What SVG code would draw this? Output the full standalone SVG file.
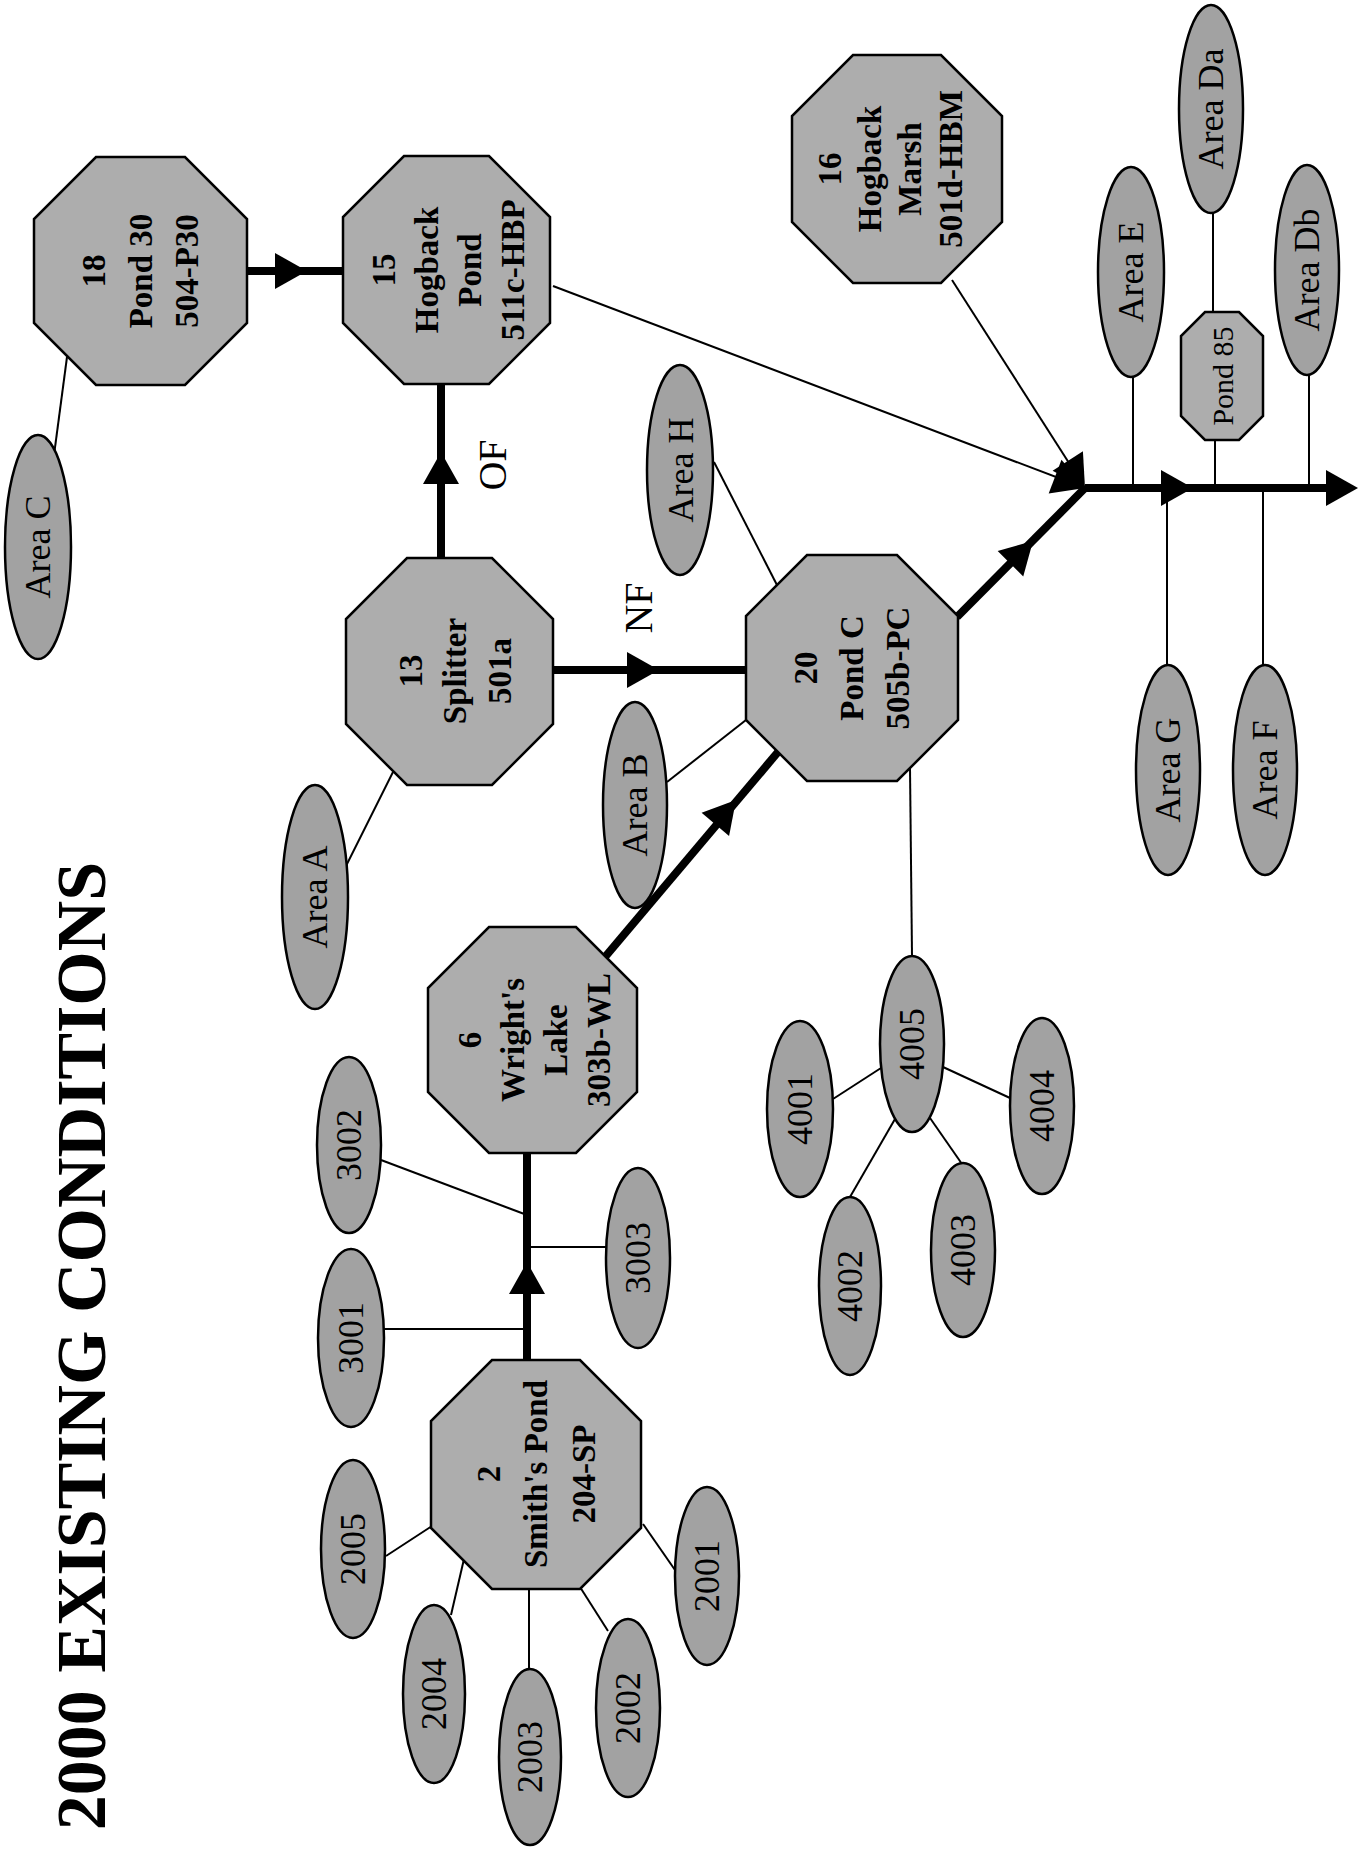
<svg xmlns="http://www.w3.org/2000/svg" xmlns:xlink="http://www.w3.org/1999/xlink" width="1366" height="1849" viewBox="0 0 1366 1849">
<style>
.oct{fill:#adadad;stroke:#000;stroke-width:2.5}
.ell{fill:#a2a2a2;stroke:#000;stroke-width:2.5}
.thick{stroke:#000;stroke-width:8;fill:none}
.thin{stroke:#000;stroke-width:2;fill:none}
.ot{font-family:"Liberation Serif",serif;font-weight:bold;font-size:33px;text-anchor:middle;fill:#000}
.et{font-family:"Liberation Serif",serif;font-size:36px;text-anchor:middle;fill:#000}
.lab{font-family:"Liberation Serif",serif;font-size:40px;text-anchor:middle;fill:#000}
.title{font-family:"Liberation Serif",serif;font-weight:bold;font-size:70px;text-anchor:middle;fill:#000}
</style>
<defs>
<path id="ah" d="M0,0 L-32,-18 L-32,18 Z" fill="#000"/>
</defs>
<rect width="1366" height="1849" fill="#fff"/>

<text class="title" transform="translate(105,1346) rotate(-90)">2000 EXISTING CONDITIONS</text>

<g id="connectors">
<line class="thick" x1="247" y1="271" x2="343" y2="271"/>
<line class="thick" x1="441" y1="558" x2="441" y2="384"/>
<line class="thick" x1="553" y1="670" x2="746" y2="670"/>
<line class="thick" x1="527" y1="1360" x2="527" y2="1153"/>
<line class="thick" x1="605" y1="957" x2="778" y2="752"/>
<line class="thick" x1="957" y1="617" x2="1085" y2="488"/>
<line class="thick" x1="1085" y1="488" x2="1335" y2="488"/>
<line class="thin" x1="553" y1="286" x2="1085" y2="488"/>
<line class="thin" x1="952" y1="280" x2="1085" y2="488"/>
<line class="thin" x1="54" y1="455" x2="67" y2="357"/>
<line class="thin" x1="346" y1="866" x2="393" y2="772"/>
<line class="thin" x1="667" y1="782" x2="746" y2="720"/>
<line class="thin" x1="714" y1="462" x2="778" y2="587"/>
<line class="thin" x1="912" y1="956" x2="910" y2="768"/>
<line class="thin" x1="384" y1="1329" x2="527" y2="1329"/>
<line class="thin" x1="381" y1="1160" x2="527" y2="1215"/>
<line class="thin" x1="527" y1="1247" x2="606" y2="1247"/>
<line class="thin" x1="386" y1="1556" x2="432" y2="1526"/>
<line class="thin" x1="451" y1="1615" x2="464" y2="1559"/>
<line class="thin" x1="529" y1="1589" x2="529" y2="1669"/>
<line class="thin" x1="580" y1="1587" x2="608" y2="1631"/>
<line class="thin" x1="643" y1="1524" x2="675" y2="1570"/>
<line class="thin" x1="833" y1="1099" x2="881" y2="1068"/>
<line class="thin" x1="943" y1="1067" x2="1010" y2="1098"/>
<line class="thin" x1="895" y1="1119" x2="850" y2="1197"/>
<line class="thin" x1="930" y1="1118" x2="962" y2="1164"/>
<line class="thin" x1="1133" y1="377" x2="1133" y2="488"/>
<line class="thin" x1="1213" y1="213" x2="1213" y2="312"/>
<line class="thin" x1="1215" y1="440" x2="1215" y2="488"/>
<line class="thin" x1="1309" y1="375" x2="1309" y2="488"/>
<line class="thin" x1="1167" y1="488" x2="1167" y2="665"/>
<line class="thin" x1="1263" y1="488" x2="1263" y2="665"/>
<use xlink:href="#ah" transform="translate(307,271)"/>
<use xlink:href="#ah" transform="translate(441,452) rotate(-90)"/>
<use xlink:href="#ah" transform="translate(659,670)"/>
<use xlink:href="#ah" transform="translate(527,1262) rotate(-90)"/>
<use xlink:href="#ah" transform="translate(736,800) rotate(-49.8)"/>
<use xlink:href="#ah" transform="translate(1033,541) rotate(-45.2)"/>
<use xlink:href="#ah" transform="translate(1085,488) rotate(20.8)"/>
<use xlink:href="#ah" transform="translate(1085,488) rotate(57.4)"/>
<use xlink:href="#ah" transform="translate(1193,488)"/>
<use xlink:href="#ah" transform="translate(1358,488)"/>
<text class="lab" transform="translate(506,465) rotate(-90)">OF</text>
<text class="lab" transform="translate(652,608) rotate(-90)">NF</text>
</g>

<g id="n18">
<polygon class="oct" points="96,157 185,157 247,219 247,323 185,385 96,385 34,323 34,219"/>
<g class="ot" transform="translate(140,271) rotate(-90)">
<text y="-35">18</text><text y="12">Pond 30</text><text y="58">504-P30</text>
</g>
</g>
<g id="n15">
<polygon class="oct" points="404,156 489,156 550,217 550,323 489,384 404,384 343,323 343,217"/>
<g class="ot" transform="translate(446,270) rotate(-90)">
<text y="-51">15</text><text y="-8">Hogback</text><text y="35">Pond</text><text y="78">511c-HBP</text>
</g>
</g>
<g id="n16">
<polygon class="oct" points="853,55 941,55 1002,116 1002,222 941,283 853,283 792,222 792,116"/>
<g class="ot" transform="translate(897,169) rotate(-90)">
<text y="-56">16</text><text y="-16">Hogback</text><text y="24">Marsh</text><text y="65">501d-HBM</text>
</g>
</g>
<g id="n13">
<polygon class="oct" points="407,558 492,558 553,619 553,724 492,785 407,785 346,724 346,619"/>
<g class="ot" transform="translate(450,671) rotate(-90)">
<text y="-28">13</text><text y="16">Splitter</text><text y="61">501a</text>
</g>
</g>
<g id="n20">
<polygon class="oct" points="807,555 897,555 958,616 958,720 897,781 807,781 746,720 746,616"/>
<g class="ot" transform="translate(852,668) rotate(-90)">
<text y="-35">20</text><text y="11">Pond C</text><text y="57">505b-PC</text>
</g>
</g>
<g id="n6">
<polygon class="oct" points="489,927 576,927 637,988 637,1092 576,1153 489,1153 428,1092 428,988"/>
<g class="ot" transform="translate(533,1040) rotate(-90)">
<text y="-52">6</text><text y="-9">Wright's</text><text y="34">Lake</text><text y="77">303b-WL</text>
</g>
</g>
<g id="n2">
<polygon class="oct" points="492,1360 580,1360 641,1421 641,1528 580,1589 492,1589 431,1528 431,1421"/>
<g class="ot" transform="translate(536,1474) rotate(-90)">
<text y="-36">2</text><text y="11">Smith's Pond</text><text y="59">204-SP</text>
</g>
</g>
<g id="pond85">
<polygon class="oct" points="1205,312 1239,312 1263,336 1263,416 1239,440 1205,440 1181,416 1181,336"/>
<text class="et" style="font-size:30px" transform="translate(1233,376) rotate(-90)">Pond 85</text>
</g>

<g id="areaC"><ellipse class="ell" cx="38" cy="547" rx="33" ry="112"/><text class="et" transform="translate(50,547) rotate(-90)">Area C</text></g>
<g id="areaA"><ellipse class="ell" cx="315" cy="897" rx="33" ry="112"/><text class="et" transform="translate(327,897) rotate(-90)">Area A</text></g>
<g id="areaB"><ellipse class="ell" cx="635" cy="805" rx="32" ry="103"/><text class="et" transform="translate(647,805) rotate(-90)">Area B</text></g>
<g id="areaH"><ellipse class="ell" cx="680" cy="470" rx="33" ry="105"/><text class="et" transform="translate(693,470) rotate(-90)">Area H</text></g>
<g id="areaE"><ellipse class="ell" cx="1131" cy="272" rx="33" ry="105"/><text class="et" transform="translate(1143,272) rotate(-90)">Area E</text></g>
<g id="areaDa"><ellipse class="ell" cx="1211" cy="109" rx="32" ry="104"/><text class="et" transform="translate(1223,109) rotate(-90)">Area Da</text></g>
<g id="areaDb"><ellipse class="ell" cx="1307" cy="270" rx="32" ry="105"/><text class="et" transform="translate(1319,270) rotate(-90)">Area Db</text></g>
<g id="areaG"><ellipse class="ell" cx="1168" cy="770" rx="32" ry="105"/><text class="et" transform="translate(1180,770) rotate(-90)">Area G</text></g>
<g id="areaF"><ellipse class="ell" cx="1265" cy="770" rx="32" ry="105"/><text class="et" transform="translate(1277,770) rotate(-90)">Area F</text></g>
<g id="e3001"><ellipse class="ell" cx="351" cy="1338" rx="33" ry="89"/><text class="et" transform="translate(363,1338) rotate(-90)">3001</text></g>
<g id="e3002"><ellipse class="ell" cx="349" cy="1145" rx="32" ry="88"/><text class="et" transform="translate(361,1145) rotate(-90)">3002</text></g>
<g id="e3003"><ellipse class="ell" cx="638" cy="1258" rx="32" ry="90"/><text class="et" transform="translate(650,1258) rotate(-90)">3003</text></g>
<g id="e2001"><ellipse class="ell" cx="707" cy="1576" rx="32" ry="89"/><text class="et" transform="translate(719,1576) rotate(-90)">2001</text></g>
<g id="e2002"><ellipse class="ell" cx="628" cy="1708" rx="32" ry="89"/><text class="et" transform="translate(640,1708) rotate(-90)">2002</text></g>
<g id="e2003"><ellipse class="ell" cx="530" cy="1757" rx="31" ry="88"/><text class="et" transform="translate(542,1757) rotate(-90)">2003</text></g>
<g id="e2004"><ellipse class="ell" cx="434" cy="1694" rx="31" ry="89"/><text class="et" transform="translate(446,1694) rotate(-90)">2004</text></g>
<g id="e2005"><ellipse class="ell" cx="353" cy="1549" rx="32" ry="89"/><text class="et" transform="translate(365,1549) rotate(-90)">2005</text></g>
<g id="e4001"><ellipse class="ell" cx="800" cy="1109" rx="33" ry="88"/><text class="et" transform="translate(812,1109) rotate(-90)">4001</text></g>
<g id="e4002"><ellipse class="ell" cx="850" cy="1286" rx="31" ry="89"/><text class="et" transform="translate(862,1286) rotate(-90)">4002</text></g>
<g id="e4003"><ellipse class="ell" cx="963" cy="1250" rx="32" ry="87"/><text class="et" transform="translate(975,1250) rotate(-90)">4003</text></g>
<g id="e4004"><ellipse class="ell" cx="1042" cy="1106" rx="32" ry="88"/><text class="et" transform="translate(1054,1106) rotate(-90)">4004</text></g>
<g id="e4005"><ellipse class="ell" cx="912" cy="1044" rx="32" ry="88"/><text class="et" transform="translate(924,1044) rotate(-90)">4005</text></g>
</svg>
